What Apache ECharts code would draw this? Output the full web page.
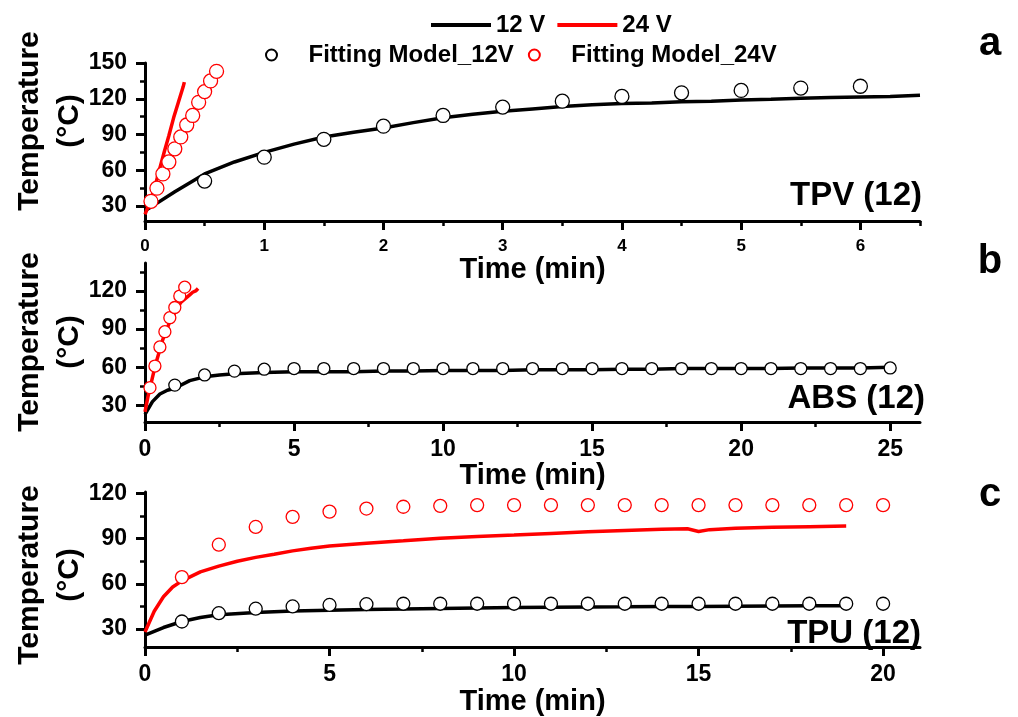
<!DOCTYPE html>
<html lang="en" style="height: 100%">
<head>
<meta charset="utf-8">
<title>Heating curves TPV / ABS / TPU</title>
</head>
<body style="height: 100%; margin: 0; background: #fff">
<div id="container" style="height: 100%"></div>

<script type="text/javascript" src="https://cdn.jsdelivr.net/npm/echarts/dist/echarts.min.js"></script>

<script type="text/javascript">
var dom = document.getElementById('container');
var myChart = echarts.init(dom);

// ---- panel a : TPV (12) ----
var tpvTime12 = [0, 0.25, 0.5, 0.75, 1, 1.25, 1.5, 1.75, 2, 2.25, 2.5, 2.75, 3, 3.25, 3.5, 3.75, 4, 4.25, 4.5, 4.75, 5, 5.25, 5.5, 5.75, 6, 6.25, 6.5];
var tpvTemp12 = [26, 42, 57, 67, 75, 82, 88, 92, 95.5, 100, 104, 107, 109.5, 111.5, 113.5, 115, 116, 116.5, 117.5, 118, 119, 119.5, 120.5, 121, 121.5, 122, 123];
var tpvTime24 = [0, 0.04, 0.08, 0.12, 0.16, 0.2, 0.24, 0.28, 0.32, 0.33];
var tpvTemp24 = [23, 33, 45, 60, 75, 89, 104, 117, 130, 134];
var tpvFitTime12 = [0.5, 1, 1.5, 2, 2.5, 3, 3.5, 4, 4.5, 5, 5.5, 6];
var tpvFitTemp12 = [51, 71, 86, 97, 106, 113, 118, 122, 125, 127, 129, 130.5];
var tpvFitTime24 = [0.05, 0.1, 0.15, 0.2, 0.25, 0.3, 0.35, 0.4, 0.45, 0.5, 0.55, 0.6];
var tpvFitTemp24 = [34, 45, 57, 67, 78, 88, 98, 106, 117, 126, 135, 143];

// ---- panel b : ABS (12) ----
var absTime12 = [0, 0.25, 0.5, 0.75, 1, 1.5, 2, 2.5, 3, 4, 5, 6, 7, 8, 9, 10, 11, 12, 13, 14, 15, 16, 17, 18, 19, 20, 21, 22, 23, 24, 25];
var absTemp12 = [23, 33, 39, 42, 43.5, 49.5, 52.5, 54, 55, 56, 56.5, 56.5, 56.5, 57, 57, 57.5, 57.5, 57.5, 58, 58, 58, 58.5, 58.5, 59, 59, 59, 59, 59.5, 59.5, 59.5, 60];
var absTime24 = [0, 0.1, 0.2, 0.3, 0.4, 0.5, 0.6, 0.7, 0.8, 0.9, 1.0, 1.1, 1.2, 1.3, 1.4, 1.5, 1.6, 1.7, 1.78];
var absTemp24 = [25, 37, 47, 57, 66, 74, 82, 88, 94, 99, 103, 107, 111, 113, 115, 117, 119, 120, 122];
var absFitTime12 = [1, 2, 3, 4, 5, 6, 7, 8, 9, 10, 11, 12, 13, 14, 15, 16, 17, 18, 19, 20, 21, 22, 23, 24, 25];
var absFitTemp12 = [46, 54, 57, 58.5, 59, 59, 59, 59, 59, 59, 59, 59, 59, 59, 59, 59, 59, 59, 59, 59, 59, 59, 59, 59, 59.5];
var absFitTime24 = [0.167, 0.333, 0.5, 0.667, 0.833, 1.0, 1.167, 1.333];
var absFitTemp24 = [44, 61, 76, 88, 99, 107, 116, 123];

// ---- panel c : TPU (12) ----
var tpuTime12 = [0, 0.5, 1, 1.5, 2, 3, 4, 5, 6, 7, 8, 9, 10, 11, 12, 13, 14, 15, 16, 17, 18, 19];
var tpuTemp12 = [26, 31, 35, 37.7, 39.5, 41, 42, 42.5, 43, 43.3, 43.7, 44, 44.3, 44.5, 44.7, 44.8, 45, 45, 45.2, 45.3, 45.4, 45.5];
var tpuTime24 = [0, 0.25, 0.5, 0.75, 1, 1.5, 2, 2.5, 3, 3.5, 4, 4.5, 5, 6, 7, 8, 9, 10, 11, 12, 13, 14, 14.7, 15, 15.3, 16, 17, 18, 19];
var tpuTemp24 = [28, 41.8, 51.4, 57.9, 62, 68, 71.8, 75, 77.6, 79.7, 81.9, 83.6, 85.1, 87, 88.6, 90.3, 91.4, 92.4, 93.5, 94.6, 95.5, 96.3, 96.6, 94.8, 96, 97, 97.6, 98, 98.4];
var tpuFitTime = [1, 2, 3, 4, 5, 6, 7, 8, 9, 10, 11, 12, 13, 14, 15, 16, 17, 18, 19, 20];
var tpuFitTemp12 = [35, 40.5, 43.5, 45, 46, 46.5, 46.8, 46.8, 46.8, 46.8, 46.8, 46.8, 46.8, 46.8, 46.8, 46.8, 46.8, 46.8, 46.8, 46.8];
var tpuFitTemp24 = [64.5, 86, 97.8, 104.5, 108, 110, 111.2, 111.8, 112.3, 112.3, 112.3, 112.3, 112.3, 112.3, 112.3, 112.3, 112.3, 112.3, 112.3, 112.3];

// tick labels
var tpvXTicks = [0, 1, 2, 3, 4, 5, 6];
var tpvXMinor = [0.5, 1.5, 2.5, 3.5, 4.5, 5.5, 6.5];
var tpvYTicks = [30, 60, 90, 120, 150];
var tpvYMinor = [45, 75, 105, 135];
var absXTicks = [0, 5, 10, 15, 20, 25];
var absXMinor = [2.5, 7.5, 12.5, 17.5, 22.5];
var absYTicks = [30, 60, 90, 120];
var absYMinor = [45, 75, 105, 135];
var tpuXTicks = [0, 5, 10, 15, 20];
var tpuXMinor = [2.5, 7.5, 12.5, 17.5];
var tpuYTicks = [30, 60, 90, 120];
var tpuYMinor = [45, 75, 105];

var FONT = 'Liberation Sans';

function zip(xs, ys) {
  return xs.map(function (x, i) { return [x, ys[i]]; });
}

function xAxes(grid, max, major, minor, labelSize, labelMargin, nameGap) {
  return [{
    type: 'value', gridIndex: grid, min: 0, max: max, position: 'bottom',
    name: 'Time (min)', nameLocation: 'middle', nameGap: nameGap,
    nameTextStyle: { fontSize: 29, fontWeight: 'bold', color: '#000', fontFamily: FONT },
    axisLine: { onZero: false, lineStyle: { color: '#000', width: 3 } },
    axisTick: { customValues: major, length: 9, lineStyle: { width: 3, color: '#000' } },
    axisLabel: { customValues: major, fontSize: labelSize, fontWeight: 'bold', color: '#000', fontFamily: FONT, margin: labelMargin },
    splitLine: { show: false }
  }, {
    type: 'value', gridIndex: grid, min: 0, max: max, position: 'bottom',
    axisLine: { show: false, onZero: false },
    axisTick: { customValues: minor, length: 5, lineStyle: { width: 2.5, color: '#000' } },
    axisLabel: { show: false },
    splitLine: { show: false }
  }];
}

function yAxes(grid, min, max, major, minor) {
  return [{
    type: 'value', gridIndex: grid, min: min, max: max, position: 'left',
    axisLine: { onZero: false, lineStyle: { color: '#000', width: 3 } },
    axisTick: { customValues: major, length: 9, lineStyle: { width: 3, color: '#000' } },
    axisLabel: { customValues: major, fontSize: 23, fontWeight: 'bold', color: '#000', fontFamily: FONT, margin: 18 },
    splitLine: { show: false }
  }, {
    type: 'value', gridIndex: grid, min: min, max: max, position: 'left',
    axisLine: { show: false, onZero: false },
    axisTick: { customValues: minor, length: 5, lineStyle: { width: 2.5, color: '#000' } },
    axisLabel: { show: false },
    splitLine: { show: false }
  }];
}

function lineSeries(name, color, axis, data) {
  return {
    name: name, type: 'line', xAxisIndex: axis, yAxisIndex: axis,
    data: data, symbol: 'none', showSymbol: false, smooth: false,
    lineStyle: { color: color, width: 3.5 }, itemStyle: { color: color },
    z: 2, animation: false
  };
}

function fitSeries(name, color, axis, data, size) {
  return {
    name: name, type: 'scatter', xAxisIndex: axis, yAxisIndex: axis,
    data: data, symbol: 'circle', symbolSize: size,
    itemStyle: { color: '#fff', borderColor: color, borderWidth: 1.3, opacity: 1 },
    z: 3, animation: false
  };
}

function label(text, x, y, size, align) {
  return {
    type: 'text', x: x, y: y,
    style: { text: text, fontSize: size, fontWeight: 'bold', fontFamily: FONT, fill: '#000', textAlign: align, textVerticalAlign: 'middle' }
  };
}

function yName(y) {
  return {
    type: 'text', x: 50, y: y, rotation: Math.PI / 2,
    style: { text: 'Temperature\n(°C)', fontSize: 30, lineHeight: 40, fontWeight: 'bold', fontFamily: FONT, fill: '#000', textAlign: 'center', textVerticalAlign: 'middle' }
  };
}

var option = {
  backgroundColor: '#fff',
  animation: false,
  textStyle: { fontFamily: FONT },
  legend: [{
    data: [{ name: '12 V', icon: 'rect' }, { name: '24 V', icon: 'rect' }],
    left: 426, top: 8,
    itemWidth: 60, itemHeight: 4, itemGap: 12,
    textStyle: { fontSize: 24, fontWeight: 'bold', color: '#000', fontFamily: FONT }
  }, {
    data: ['Fitting Model_12V', 'Fitting Model_24V'], left: 260, top: 38,
    itemWidth: 64, itemHeight: 11, itemGap: 14,
    textStyle: { fontSize: 24, fontWeight: 'bold', color: '#000', fontFamily: FONT }
  }],
  grid: [
    { left: 145, right: 98, top: 63, bottom: 717 - 221 },
    { left: 145, right: 98, top: 263, bottom: 717 - 422 },
    { left: 145, right: 98, top: 492, bottom: 717 - 652 }
  ],
  xAxis: [].concat(
    xAxes(0, 6.5, tpvXTicks, tpvXMinor, 17, 17, 32),
    xAxes(1, 26, absXTicks, absXMinor, 23, 16, 38),
    xAxes(2, 21, tpuXTicks, tpuXMinor, 23, 16, 35)
  ),
  yAxis: [].concat(
    yAxes(0, 17.5, 150, tpvYTicks, tpvYMinor),
    yAxes(1, 17, 142, absYTicks, absYMinor),
    yAxes(2, 18, 121, tpuYTicks, tpuYMinor)
  ),
  series: [
    lineSeries('12 V', '#000', 0, zip(tpvTime12, tpvTemp12)),
    lineSeries('24 V', '#ff0000', 0, zip(tpvTime24, tpvTemp24)),
    fitSeries('Fitting Model_12V', '#000', 0, zip(tpvFitTime12, tpvFitTemp12), 14),
    fitSeries('Fitting Model_24V', '#ff0000', 0, zip(tpvFitTime24, tpvFitTemp24), 14),

    lineSeries('12 V', '#000', 2, zip(absTime12, absTemp12)),
    lineSeries('24 V', '#ff0000', 2, zip(absTime24, absTemp24)),
    fitSeries('Fitting Model_12V', '#000', 2, zip(absFitTime12, absFitTemp12), 12),
    fitSeries('Fitting Model_24V', '#ff0000', 2, zip(absFitTime24, absFitTemp24), 12),

    lineSeries('12 V', '#000', 4, zip(tpuTime12, tpuTemp12)),
    lineSeries('24 V', '#ff0000', 4, zip(tpuTime24, tpuTemp24)),
    fitSeries('Fitting Model_12V', '#000', 4, zip(tpuFitTime, tpuFitTemp12), 13),
    fitSeries('Fitting Model_24V', '#ff0000', 4, zip(tpuFitTime, tpuFitTemp24), 13)
  ],
  graphic: [
    yName(121), yName(342), yName(575),
    label('TPV (12)', 922, 196, 33, 'right'),
    label('ABS (12)', 925, 399, 33, 'right'),
    label('TPU (12)', 921, 634, 33, 'right'),
    label('a', 990, 44, 40, 'center'),
    label('b', 990, 262, 40, 'center'),
    label('c', 990, 495, 40, 'center')
  ]
};

myChart.setOption(option);
window.addEventListener('resize', myChart.resize);
</script>
</body>
</html>
